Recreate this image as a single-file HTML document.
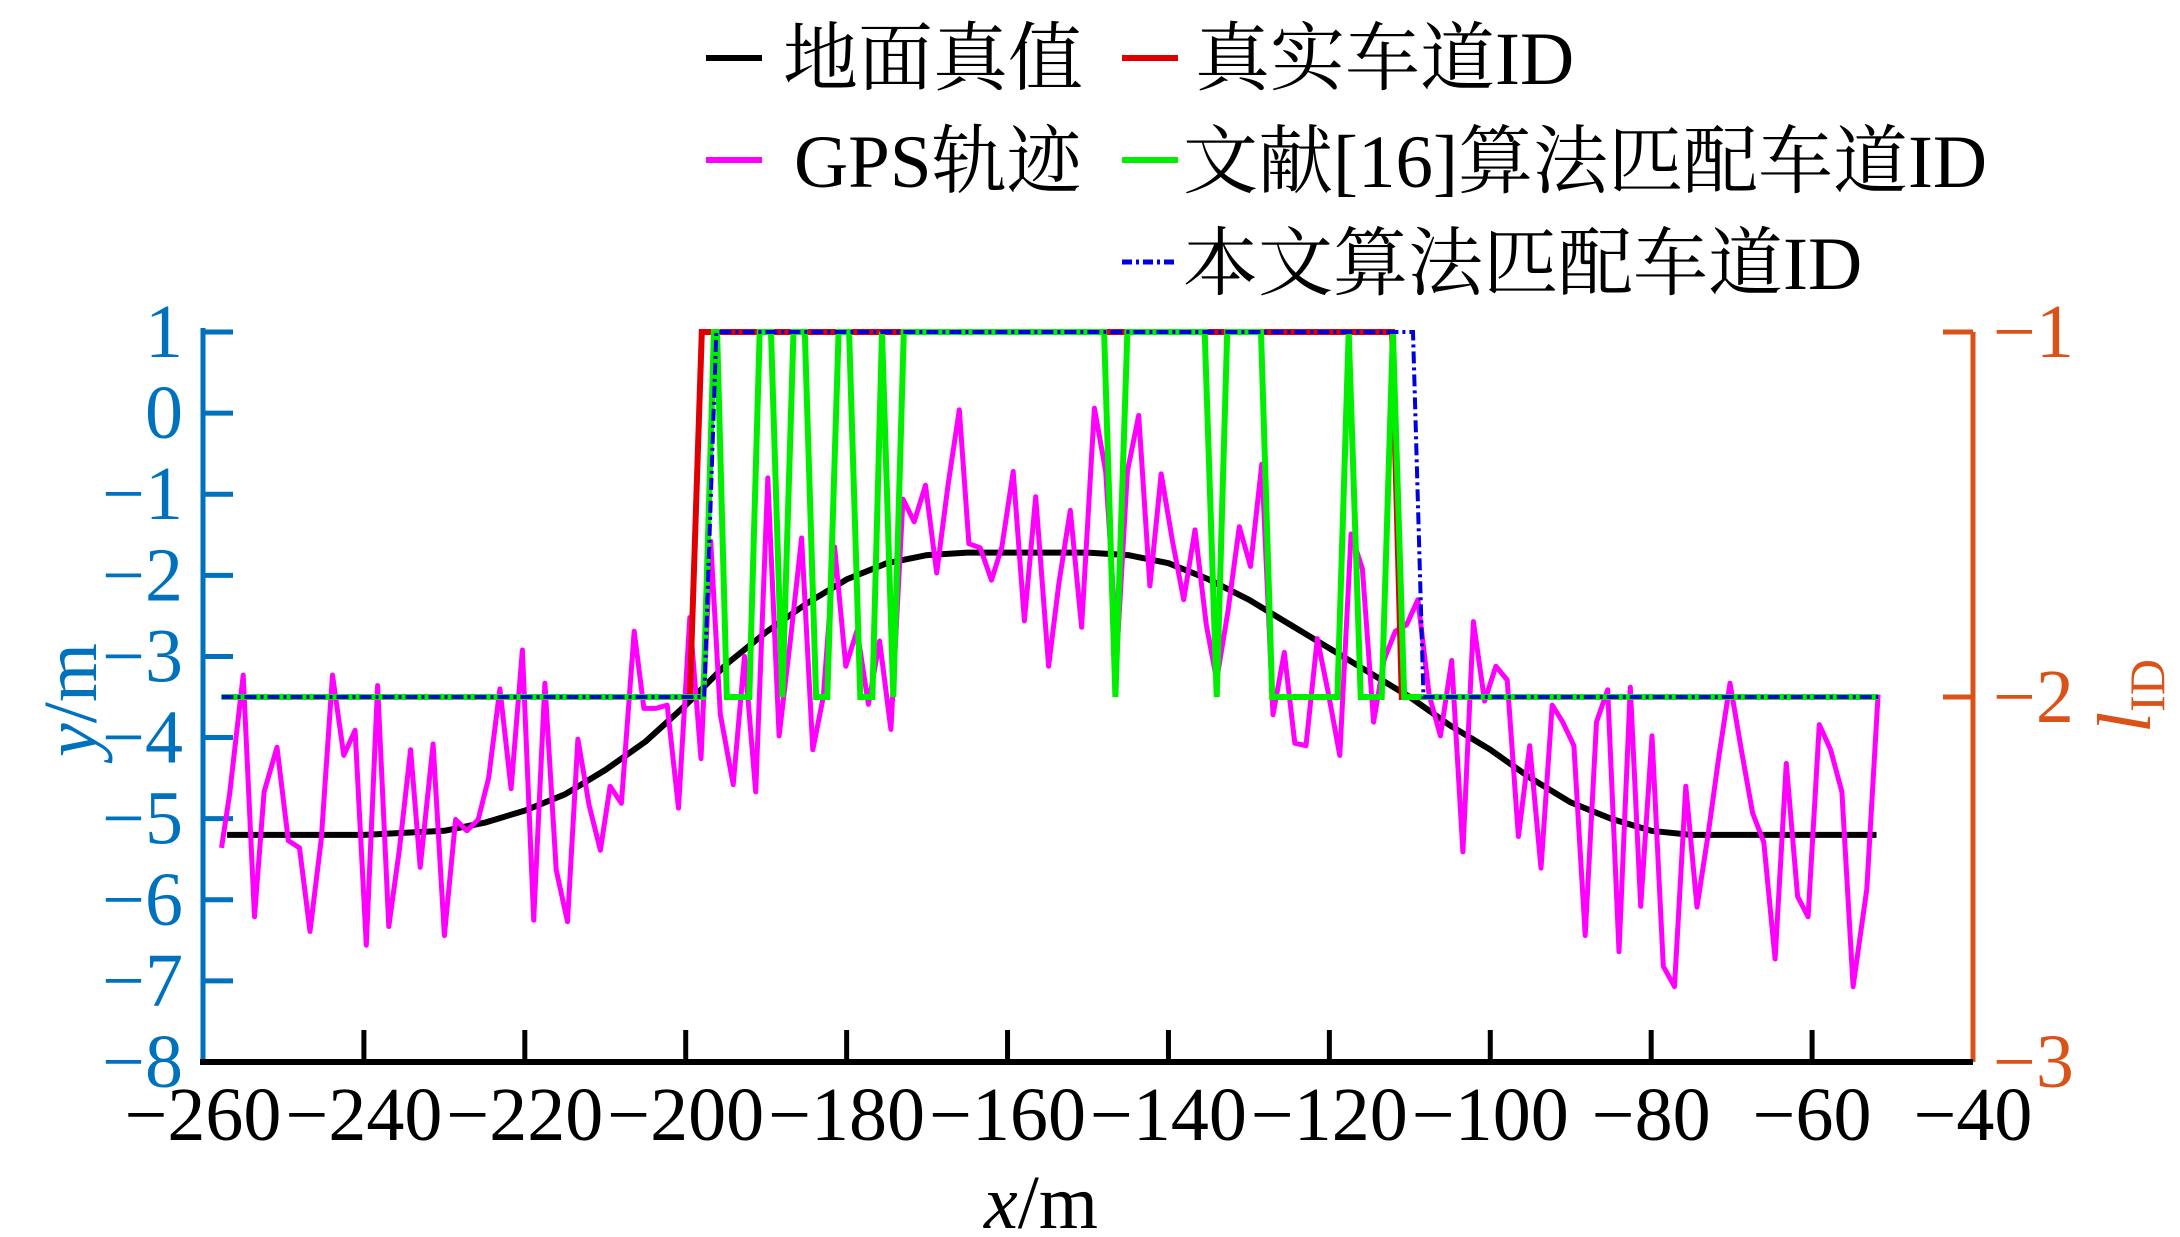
<!DOCTYPE html>
<html><head><meta charset="utf-8"><style>
html,body{margin:0;padding:0;background:#fff;}
svg{display:block;}
text{font-family:"Liberation Serif","Times New Roman","Noto Serif CJK SC",serif;}
</style></head><body>
<svg id="chart" width="2180" height="1237" viewBox="0 0 2180 1237" xmlns="http://www.w3.org/2000/svg">
<g id="legend">
 <g><line x1="706" y1="58" x2="762" y2="58" stroke="#000" stroke-width="6"/><text x="783" y="84" font-size="75" style="font-family:'Liberation Serif','Noto Serif CJK SC',serif">地面真值</text></g>
 <g><line x1="1122" y1="58" x2="1178" y2="58" stroke="#e00000" stroke-width="6"/><text x="1195" y="84" font-size="75" style="font-family:'Liberation Serif','Noto Serif CJK SC',serif">真实车道ID</text></g>
 <g><line x1="706" y1="160" x2="762" y2="160" stroke="#ff00ff" stroke-width="6"/><text x="794" y="187" font-size="75" style="font-family:'Liberation Serif','Noto Serif CJK SC',serif">GPS轨迹</text></g>
 <g><line x1="1122" y1="160" x2="1178" y2="160" stroke="#00ee00" stroke-width="6"/><text x="1183" y="187" font-size="75" style="font-family:'Liberation Serif','Noto Serif CJK SC',serif">文献[16]算法匹配车道ID</text></g>
 <g><line x1="1122" y1="262" x2="1178" y2="262" stroke="#0000dd" stroke-width="5" stroke-dasharray="10 4 3 4"/><text x="1183" y="289" font-size="75" style="font-family:'Liberation Serif','Noto Serif CJK SC',serif">本文算法匹配车道ID</text></g>
</g>
<g id="axes"></g>
<g id="marks"></g>
</svg>
<script>
const xTicks=[-260,-240,-220,-200,-180,-160,-140,-120,-100,-80,-60,-40];
const yTicks=[1,0,-1,-2,-3,-4,-5,-6,-7,-8];
const laneTicks=[-1,-2,-3];
const truthX=[-257,-240,-230,-225,-220,-215,-210,-205,-200,-195,-190,-185,-180,-175,-170,-165,-160,-150,-145,-140,-135,-130,-125,-120,-115,-110,-105,-100,-95,-90,-85,-80,-75,-70,-60,-52];
const truthY=[-5.2,-5.2,-5.15,-5.05,-4.9,-4.7,-4.4,-4.05,-3.6,-3.1,-2.7,-2.35,-2.05,-1.85,-1.75,-1.72,-1.72,-1.72,-1.75,-1.85,-2.05,-2.3,-2.6,-2.9,-3.2,-3.5,-3.85,-4.15,-4.5,-4.8,-5.0,-5.15,-5.2,-5.2,-5.2,-5.2];
const gpsX=[-257.7,-256.7,-255.0,-253.6,-252.4,-250.8,-249.4,-248.0,-246.7,-245.3,-243.9,-242.5,-241.1,-239.7,-238.3,-236.9,-235.6,-234.2,-233.0,-231.4,-230.0,-228.6,-227.2,-225.8,-224.5,-223.1,-221.7,-220.3,-218.9,-217.5,-216.1,-214.7,-213.4,-212.0,-210.6,-209.4,-208.0,-206.4,-205.2,-203.7,-202.3,-200.9,-199.5,-198.1,-196.9,-195.7,-194.1,-192.7,-191.3,-189.8,-188.4,-187.0,-185.6,-184.2,-182.9,-181.5,-180.1,-178.7,-177.3,-175.9,-174.5,-173.0,-171.6,-170.2,-168.8,-167.4,-166.0,-164.8,-163.4,-162.0,-160.7,-159.3,-157.9,-156.5,-154.9,-153.6,-152.2,-150.8,-149.2,-147.8,-146.4,-145.1,-143.7,-142.3,-140.9,-139.5,-138.1,-136.7,-135.3,-134.0,-132.6,-131.2,-129.8,-128.4,-127.0,-125.6,-124.3,-122.9,-121.5,-120.1,-118.7,-117.3,-115.9,-114.5,-113.2,-111.8,-110.4,-109.0,-107.6,-106.2,-104.8,-103.4,-102.1,-100.7,-99.3,-97.9,-96.5,-95.1,-93.7,-92.3,-91.0,-89.6,-88.2,-86.8,-85.4,-84.0,-82.6,-81.3,-79.9,-78.5,-77.1,-75.7,-74.3,-72.9,-71.6,-70.2,-68.8,-67.4,-66.0,-64.6,-63.2,-61.8,-60.5,-59.1,-57.7,-56.3,-54.9,-53.2,-51.8];
const gpsY=[-5.36,-4.70,-3.23,-6.21,-4.67,-4.12,-5.27,-5.36,-6.39,-5.25,-3.23,-4.22,-3.91,-6.56,-3.36,-6.33,-5.39,-4.15,-5.60,-4.08,-6.44,-5.01,-5.15,-5.01,-4.50,-3.40,-4.63,-2.92,-6.25,-3.33,-5.63,-6.27,-4.02,-4.84,-5.39,-4.60,-4.81,-2.69,-3.64,-3.64,-3.60,-4.87,-2.52,-4.26,-1.58,-3.71,-4.58,-3.00,-4.67,-0.80,-3.98,-2.81,-1.54,-4.15,-3.50,-1.65,-3.12,-2.68,-3.59,-2.81,-3.90,-1.06,-1.34,-0.89,-1.97,-0.89,0.04,-1.61,-1.66,-2.06,-1.65,-0.72,-2.56,-1.03,-3.12,-2.09,-1.20,-2.64,0.06,-0.72,-2.95,-0.72,-0.03,-2.13,-0.75,-1.58,-2.30,-1.44,-2.61,-3.29,-2.44,-1.40,-1.89,-0.63,-3.72,-2.95,-4.07,-4.10,-2.78,-3.47,-4.22,-1.49,-1.92,-3.81,-3.04,-2.69,-2.61,-2.30,-3.47,-3.98,-3.05,-5.41,-2.57,-3.55,-3.12,-3.29,-5.22,-4.10,-5.61,-3.60,-3.81,-4.10,-6.44,-3.81,-3.41,-6.64,-3.38,-6.08,-3.98,-6.82,-7.07,-4.60,-6.09,-5.18,-4.24,-3.33,-4.15,-4.93,-5.29,-6.73,-4.32,-5.96,-6.21,-3.84,-4.15,-4.67,-7.07,-5.87,-3.47];
const redX=[-257.7,-199.5,-198.0,-112.2,-111.0,-51.8];
const redLane=[-2,-2,-1,-1,-2,-2];
const greenX=[-257.7,-197.8,-196.5,-196.1,-194.9,-192.1,-190.8,-189.4,-188.0,-186.6,-185.2,-183.8,-182.4,-181.0,-179.7,-178.3,-176.8,-175.6,-174.2,-172.9,-148.0,-146.6,-145.1,-135.5,-134.0,-132.7,-128.5,-127.1,-119.0,-117.6,-116.1,-113.5,-112.1,-110.7,-51.8];
const greenLane=[-2,-2,-1,-1,-2,-2,-1,-1,-2,-1,-1,-2,-2,-1,-1,-2,-2,-1,-2,-1,-1,-2,-1,-1,-2,-1,-1,-2,-2,-1,-2,-2,-1,-2,-2];
const blueX=[-257.7,-197.7,-196.2,-109.6,-108.3,-51.8];
const blueLane=[-2,-2,-1,-1,-2,-2];

const L=203,R=1973,T=332,B=1062;
const sx=v=>L+(v+260)/220*(R-L);
const sy=v=>T+(1-v)/9*(B-T);
const sl=v=>T+(-1-v)/2*(B-T);
const NS='http://www.w3.org/2000/svg';
const FF="font-family:'Liberation Serif','Times New Roman',serif";
const axes=document.getElementById('axes'),marks=document.getElementById('marks');
function mk(tag,attrs,parent,txt){const e=document.createElementNS(NS,tag);for(const k in attrs)e.setAttribute(k,attrs[k]);if(txt!==undefined)e.textContent=txt;parent.appendChild(e);return e;}
const fmt=v=>v<0?'\u2212'+Math.abs(v):''+v;
const BLUE='#0072BD',ORG='#D95319';
let la=mk('line',{x1:L,y1:T-4,x2:L,y2:B,stroke:BLUE,'stroke-width':5},axes);


yTicks.forEach(v=>{
 const t=mk('line',{x1:L,y1:sy(v),x2:L+30,y2:sy(v),stroke:BLUE,'stroke-width':5},axes);
 
 
 const lb=mk('text',{x:183,y:sy(v)+25,'font-size':76,fill:BLUE,'text-anchor':'end',style:FF},axes,fmt(v));
 
 
});
let ra=mk('line',{x1:R,y1:T,x2:R,y2:B,stroke:ORG,'stroke-width':5},axes);


laneTicks.forEach(v=>{
 const t=mk('line',{x1:R-30,y1:sl(v),x2:R,y2:sl(v),stroke:ORG,'stroke-width':5},axes);
 
 
 const lb=mk('text',{x:1993,y:sl(v)+25,'font-size':76,fill:ORG,style:FF},axes,fmt(v));
 
 
});
let ba=mk('line',{x1:L-3,y1:B,x2:R,y2:B,stroke:'#000','stroke-width':6},axes);


xTicks.forEach(v=>{
 if(v>-260&&v<-40){const t=mk('line',{x1:sx(v),y1:B,x2:sx(v),y2:B-32,stroke:'#000','stroke-width':5},axes);
 
 }
 const lb=mk('text',{x:sx(v),y:1140,'font-size':76,'text-anchor':'middle',style:FF},axes,fmt(v));
 
 
});
const xt=mk('text',{x:1041,y:1228,'font-size':76,'text-anchor':'middle',style:FF},axes);


mk('tspan',{'font-style':'italic'},xt,'x');mk('tspan',{},xt,'/m');
const yt=mk('text',{x:0,y:0,'font-size':76,'text-anchor':'middle',fill:BLUE,style:FF,transform:'translate(96,700) rotate(-90)'},axes);


mk('tspan',{'font-style':'italic'},yt,'y');mk('tspan',{},yt,'/m');
const rt=mk('text',{x:0,y:0,'font-size':76,'text-anchor':'middle',fill:ORG,style:FF,transform:'translate(2150,696) rotate(-90)'},axes);


mk('tspan',{'font-style':'italic'},rt,'l');mk('tspan',{'font-size':50,dy:14},rt,'ID');
function poly(xs,ys,f){return xs.map((x,i)=>sx(x).toFixed(1)+','+f(ys[i]).toFixed(1)).join(' ');}
const pT=mk('polyline',{points:poly(truthX,truthY,sy),fill:'none',stroke:'#000','stroke-width':6,'stroke-linejoin':'round'},marks);


const pG=mk('polyline',{points:poly(gpsX,gpsY,sy),fill:'none',stroke:'#ff00ff','stroke-width':5,'stroke-linejoin':'round'},marks);


const pR=mk('polyline',{points:poly(redX,redLane,sl),fill:'none',stroke:'#e00000','stroke-width':6},marks);


const pN=mk('polyline',{points:poly(greenX,greenLane,sl),fill:'none',stroke:'#00ee00','stroke-width':6},marks);


const pB=mk('polyline',{points:poly(blueX,blueLane,sl),fill:'none',stroke:'#0000dd','stroke-width':4,'stroke-dasharray':'12 4 3 4'},marks);


</script>
</body></html>
